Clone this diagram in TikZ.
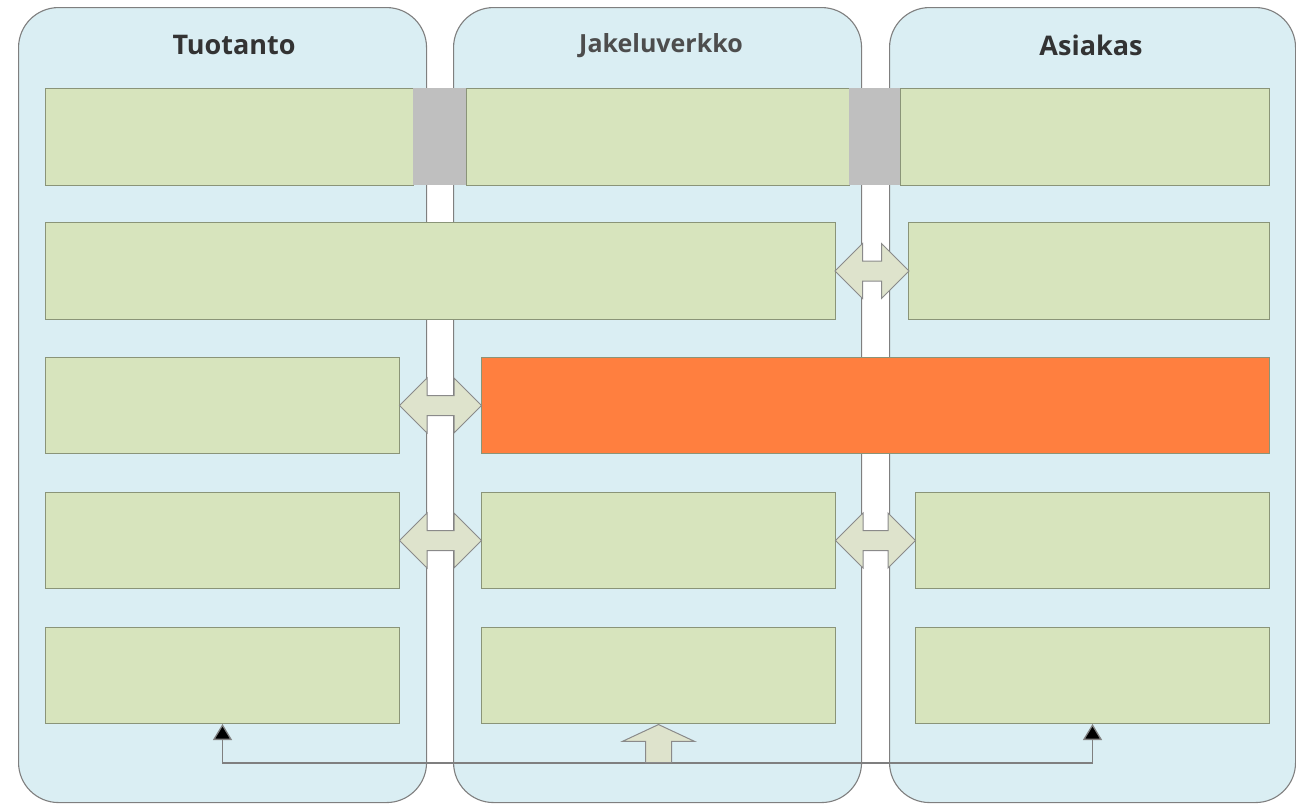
\documentclass[tikz,border=0pt]{standalone}
\usepackage{fontspec}
\setmainfont{Open Sans}
\usetikzlibrary{shapes.arrows,arrows.meta,calc}
\definecolor{panelfill}{HTML}{DAEEF3}
\definecolor{panelline}{HTML}{7F7F7F}
\definecolor{boxfill}{HTML}{D7E4BD}
\definecolor{boxline}{HTML}{8A9478}
\definecolor{orangefill}{HTML}{FF7F3F}
\definecolor{grayfill}{HTML}{BFBFBF}
\definecolor{arrfill}{HTML}{DEE3CC}
\definecolor{arrline}{HTML}{8A8A8A}
\definecolor{titlecol}{HTML}{333333}
\definecolor{titlecolb}{HTML}{4D4D4D}
\begin{document}
\begin{tikzpicture}[x=1pt,y=-1pt,
  panel/.style={draw=panelline,fill=panelfill,line width=1.1pt,rounded corners=40pt,anchor=north west,inner sep=0pt,minimum width=408pt,minimum height=795pt},
  ttl/.style={text=titlecol,font=\bfseries\fontsize{27}{32}\selectfont,inner sep=0pt},
  ttlb/.style={text=titlecolb,font=\bfseries\fontsize{25}{30}\selectfont,inner sep=0pt},
  box/.style={draw=boxline,fill=boxfill,line width=1pt,anchor=north west,inner sep=0pt},
  graybox/.style={fill=grayfill,anchor=north west,inner sep=0pt},
  orbox/.style={draw=boxline,fill=orangefill,line width=1pt,anchor=north west,inner sep=0pt},
  dbl/.style={double arrow,draw=arrline,fill=arrfill,line width=1pt,inner xsep=0pt,inner ysep=9.5pt,double arrow head extend=17.5pt,double arrow tip angle=90},
  uparr/.style={single arrow,draw=arrline,fill=arrfill,line width=1pt,inner xsep=0pt,inner ysep=12.5pt,single arrow head extend=23pt,single arrow tip angle=130,minimum height=38pt,rotate=90,anchor=tip},
  conn/.style={draw=panelline,line width=1.3pt,-{Triangle[length=16pt,width=19pt,fill=black]}}
]
\useasboundingbox (0,0) rectangle (1296,804);
% panels
\node[panel] (p1) at (18,7) {};
\node[panel] (p2) at (453,7) {};
\node[panel,minimum width=406pt] (p3) at (889,7) {};
% titles
\node[ttl] (t1) at (234,45) {Tuotanto};
\node[ttlb] (t2) at (661,46) {Jakeluverkko};
\node[ttl] (t3) at (1091,45) {Asiakas};
% row 1
\node[box,minimum width=368pt,minimum height=97pt] (b1a) at (45,88) {};
\node[box,minimum width=383pt,minimum height=97pt] (b1b) at (466,88) {};
\node[box,minimum width=369pt,minimum height=97pt] (b1c) at (900,88) {};
\node[graybox,minimum width=53pt,minimum height=97pt] (g1) at (413,88) {};
\node[graybox,minimum width=51pt,minimum height=97pt] (g2) at (849,88) {};
% row 2
\node[box,minimum width=790pt,minimum height=97pt] (b2a) at (45,222) {};
\node[box,minimum width=361pt,minimum height=97pt] (b2c) at (908,222) {};
% row 3
\node[box,minimum width=354pt,minimum height=96pt] (b3a) at (45,357) {};
\node[orbox,minimum width=788pt,minimum height=96pt] (o3) at (481,357) {};
% row 4
\node[box,minimum width=354pt,minimum height=96pt] (b4a) at (45,492) {};
\node[box,minimum width=354pt,minimum height=96pt] (b4b) at (481,492) {};
\node[box,minimum width=354pt,minimum height=96pt] (b4c) at (915,492) {};
% row 5
\node[box,minimum width=354pt,minimum height=96pt] (b5a) at (45,627) {};
\node[box,minimum width=354pt,minimum height=96pt] (b5b) at (481,627) {};
\node[box,minimum width=354pt,minimum height=96pt] (b5c) at (915,627) {};
% double arrows
\node[dbl,minimum height=74pt] (d2) at ($(b2a.east)!0.5!(b2c.west)$) {};
\node[dbl,minimum height=82pt] (d3) at ($(b3a.east)!0.5!(o3.west)$) {};
\node[dbl,minimum height=82pt] (d4a) at ($(b4a.east)!0.5!(b4b.west)$) {};
\node[dbl,minimum height=80pt] (d4b) at ($(b4b.east)!0.5!(b4c.west)$) {};
% bottom connectors
\coordinate (hub) at ($(b5b.south)+(0,39)$);
\draw[conn] (hub) -| (b5a.south);
\draw[conn] (hub) -| (b5c.south);
\node[uparr] (up) at (b5b.south) {};
\end{tikzpicture}
\end{document}
